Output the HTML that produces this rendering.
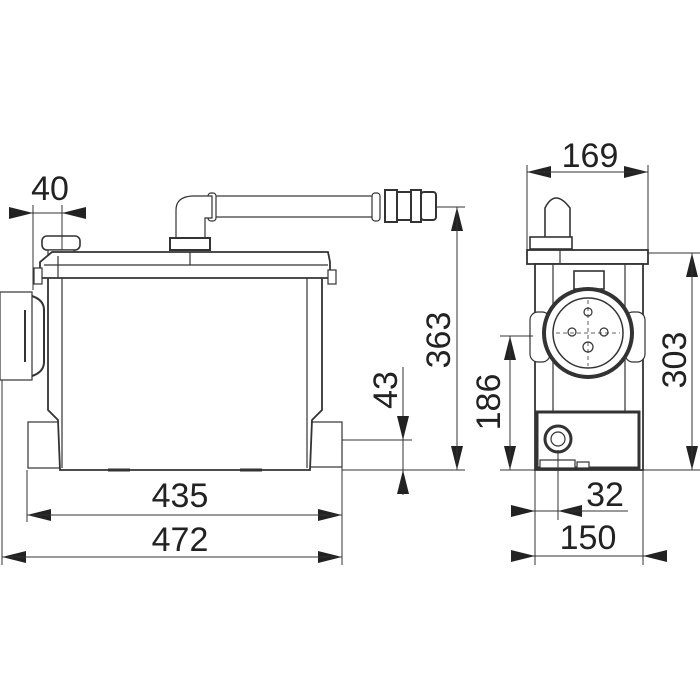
<!DOCTYPE html>
<html><head><meta charset="utf-8"><style>
html,body{margin:0;padding:0;background:#fff;width:700px;height:700px;overflow:hidden}
svg{display:block}
text{font-family:"Liberation Sans",sans-serif;font-size:34px;fill:#222}
</style></head><body>
<svg width="700" height="700" viewBox="0 0 700 700" xmlns="http://www.w3.org/2000/svg">
<defs>
<marker id="a" markerWidth="24" markerHeight="12" refX="24" refY="6" orient="auto" markerUnits="userSpaceOnUse"><path d="M0,0 L24,6 L0,12 Z" fill="#222"/></marker>
</defs>
<g stroke="#333" fill="none" stroke-width="1.2">
<rect x="212" y="196" width="166" height="21" fill="#fff"/>
<rect x="208" y="193" width="8" height="28" rx="3" fill="#fff"/>
<rect x="372" y="193" width="8" height="28" rx="3" fill="#fff"/>
<rect x="385" y="190" width="12" height="32" fill="#fff" stroke-width="2"/>
<rect x="397" y="192" width="14" height="28" fill="#fff" stroke-width="2"/>
<rect x="411" y="190" width="10" height="32" fill="#fff" stroke-width="2"/>
<rect x="421" y="192" width="15" height="28" rx="3" fill="#fff" stroke-width="2"/>
<path d="M176,245 L176,210 Q176,197 192,196 L212,196 L212,218 L205,218 L205,245 Z" fill="#fff"/>
<rect x="170" y="238" width="40" height="12" fill="#fff" stroke-width="2"/>
<rect x="42" y="236" width="38" height="14" rx="5" fill="#fff" stroke-width="1.6"/>
<rect x="48" y="250" width="26" height="8" fill="#fff"/>
<rect x="0" y="292" width="32" height="88" fill="#fff"/>
<path d="M32,296 Q44,300 44,310 L44,362 Q44,372 32,376" stroke-width="2"/>
<line x1="25" y1="310" x2="25" y2="362" stroke-width="2"/>
<rect x="28" y="422" width="34" height="46" fill="#fff"/>
<rect x="310" y="422" width="32" height="45" fill="#fff"/>
<path d="M48,278 L48,410 L58,420 L60,470 L310,470 L312,420 L322,410 L322,278" fill="#fff" stroke-width="1.8"/>
<line x1="62" y1="278" x2="62" y2="468"/>
<line x1="307" y1="278" x2="307" y2="468"/>
<path d="M40,262 L40,278 L330,278 L330,262 L328,252 L52,252 Z" fill="#fff" stroke-width="1.8"/>
<line x1="44" y1="265" x2="328" y2="265"/>
<line x1="58" y1="256" x2="58" y2="278"/>
<line x1="190" y1="252" x2="190" y2="265"/>
<rect x="34" y="268" width="8" height="16" fill="#fff"/>
<rect x="328" y="270" width="8" height="14" fill="#fff"/>
<line x1="108" y1="470" x2="130" y2="470" stroke-width="3"/>
<line x1="240" y1="470" x2="262" y2="470" stroke-width="3"/>

<path d="M545,238 L545,208 Q555,188 570,208 L570,238" fill="#fff" stroke-width="1.6"/>
<rect x="530" y="237" width="42" height="12" fill="#fff" stroke-width="1.6"/>
<rect x="527" y="250" width="121" height="14" fill="#fff" stroke-width="1.8"/>
<line x1="560" y1="250" x2="560" y2="264"/>
<rect x="535" y="264" width="108" height="206" fill="#fff" stroke-width="1.8"/>
<line x1="553" y1="264" x2="553" y2="412"/>
<line x1="625" y1="264" x2="625" y2="412"/>
<rect x="530" y="312" width="20" height="50" rx="8" fill="#fff"/>
<rect x="625" y="312" width="20" height="50" rx="8" fill="#fff"/>
<rect x="574" y="271" width="30" height="18" fill="#fff" stroke-width="1.6"/>
<circle cx="588" cy="333" r="44" fill="#fff" stroke-width="4"/>
<circle cx="588" cy="333" r="35" stroke-width="1.5"/>
<circle cx="588" cy="312" r="4"/><circle cx="572" cy="332" r="4"/><circle cx="604" cy="332" r="4"/>
<circle cx="588" cy="347" r="5"/>
<line x1="588" y1="300" x2="588" y2="366" stroke-dasharray="4 3" stroke-width="0.8"/>
<line x1="556" y1="333" x2="620" y2="333" stroke-dasharray="4 3" stroke-width="0.8"/>
<rect x="537" y="412" width="102" height="56" fill="#fff" stroke-width="3"/>
<circle cx="558" cy="439" r="13" fill="#fff" stroke-width="3"/>
<circle cx="558" cy="439" r="7"/>
<rect x="540" y="460" width="35" height="8" fill="#fff"/>
<rect x="577" y="462" width="12" height="6" fill="#fff"/>
</g>

<g stroke="#333" stroke-width="1" fill="none">
<line x1="33" y1="205" x2="33" y2="290"/><line x1="62" y1="205" x2="62" y2="250"/>
<line x1="10" y1="213" x2="33" y2="213" marker-end="url(#a)"/>
<line x1="86" y1="213" x2="62" y2="213" marker-end="url(#a)"/>
<line x1="33" y1="213" x2="62" y2="213"/>
<line x1="437" y1="207" x2="465" y2="207"/><line x1="342" y1="470" x2="465" y2="470"/>
<line x1="457" y1="220" x2="457" y2="207" marker-end="url(#a)"/>
<line x1="457" y1="450" x2="457" y2="470" marker-end="url(#a)"/>
<line x1="457" y1="207" x2="457" y2="470"/>
<line x1="342" y1="440" x2="412" y2="440"/>
<line x1="403" y1="367" x2="403" y2="440" marker-end="url(#a)"/>
<line x1="403" y1="495" x2="403" y2="470" marker-end="url(#a)"/>
<line x1="403" y1="440" x2="403" y2="470"/>
<line x1="27" y1="470" x2="27" y2="522"/><line x1="2" y1="380" x2="2" y2="565"/><line x1="342" y1="467" x2="342" y2="565"/>
<line x1="60" y1="515" x2="27" y2="515" marker-end="url(#a)"/>
<line x1="310" y1="515" x2="342" y2="515" marker-end="url(#a)"/>
<line x1="27" y1="515" x2="342" y2="515"/>
<line x1="40" y1="557" x2="2" y2="557" marker-end="url(#a)"/>
<line x1="310" y1="557" x2="342" y2="557" marker-end="url(#a)"/>
<line x1="2" y1="557" x2="342" y2="557"/>
<line x1="527" y1="165" x2="527" y2="250"/><line x1="648" y1="165" x2="648" y2="250"/>
<line x1="560" y1="172" x2="527" y2="172" marker-end="url(#a)"/>
<line x1="615" y1="172" x2="648" y2="172" marker-end="url(#a)"/>
<line x1="527" y1="172" x2="648" y2="172"/>
<line x1="648" y1="253" x2="700" y2="253"/><line x1="643" y1="470" x2="700" y2="470"/>
<line x1="692" y1="290" x2="692" y2="253" marker-end="url(#a)"/>
<line x1="692" y1="440" x2="692" y2="470" marker-end="url(#a)"/>
<line x1="692" y1="253" x2="692" y2="470"/>
<line x1="500" y1="336" x2="533" y2="336"/><line x1="500" y1="470" x2="535" y2="470"/>
<line x1="510" y1="370" x2="510" y2="336" marker-end="url(#a)"/>
<line x1="510" y1="440" x2="510" y2="470" marker-end="url(#a)"/>
<line x1="510" y1="336" x2="510" y2="470"/>
<line x1="535" y1="470" x2="535" y2="565"/><line x1="558" y1="450" x2="558" y2="520"/><line x1="643" y1="470" x2="643" y2="565"/>
<line x1="512" y1="511" x2="535" y2="511" marker-end="url(#a)"/>
<line x1="582" y1="511" x2="558" y2="511" marker-end="url(#a)"/>
<line x1="535" y1="511" x2="628" y2="511"/>
<line x1="512" y1="556" x2="535" y2="556" marker-end="url(#a)"/>
<line x1="666" y1="556" x2="643" y2="556" marker-end="url(#a)"/>
<line x1="535" y1="556" x2="643" y2="556"/>
</g>
<text x="50" y="200" text-anchor="middle">40</text>
<text x="180" y="507" text-anchor="middle">435</text>
<text x="180" y="551" text-anchor="middle">472</text>
<text x="590" y="167" text-anchor="middle">169</text>
<text x="605" y="506" text-anchor="middle">32</text>
<text x="588" y="549" text-anchor="middle">150</text>
<text transform="translate(450,340) rotate(-90)" text-anchor="middle">363</text>
<text transform="translate(397,390) rotate(-90)" text-anchor="middle">43</text>
<text transform="translate(500,402) rotate(-90)" text-anchor="middle">186</text>
<text transform="translate(686,360) rotate(-90)" text-anchor="middle">303</text>
</svg>
</body></html>
